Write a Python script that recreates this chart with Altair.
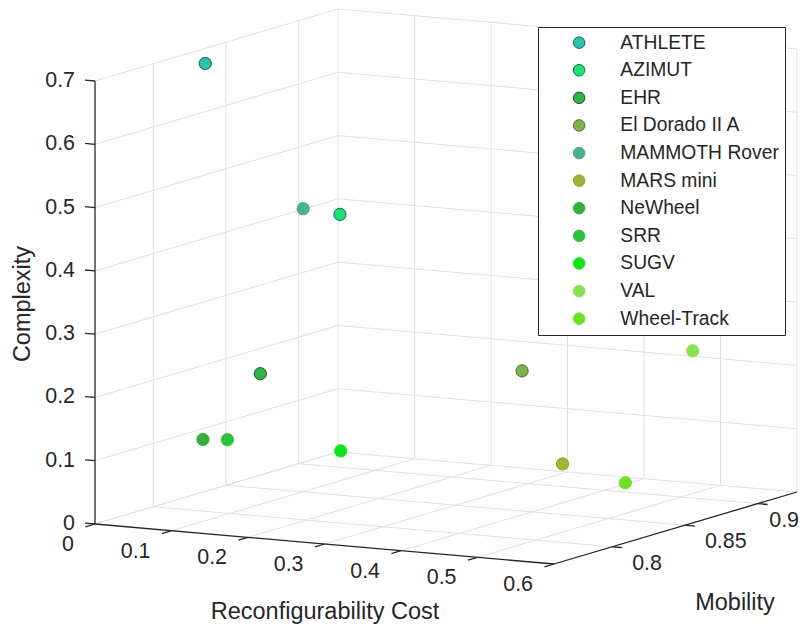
import altair as alt
import pandas as pd
import math

# ---------------- data ----------------
names = ["ATHLETE", "AZIMUT", "EHR", "El Dorado II A", "MAMMOTH Rover", "MARS mini",
         "NeWheel", "SRR", "SUGV", "VAL", "Wheel-Track"]
reconfig_cost = [0.03, 0.206, 0.14, 0.33, 0.158, 0.44, 0.084, 0.116, 0.15, 0.477, 0.503]
mobility = [0.82, 0.82, 0.80, 0.88, 0.82, 0.85, 0.79, 0.79, 0.85, 0.92, 0.86]
complexity = [0.69, 0.47, 0.225, 0.195, 0.474, 0.08, 0.122, 0.125, 0.07, 0.215, 0.05]

fill_colors = ["#2bc2a8", "#1fe072", "#2db446", "#7cb447", "#44b489", "#9ab834",
               "#36ad3c", "#2cc23c", "#12e31a", "#86e24e", "#6fe024"]
edge_colors = ["#1d5a50", "#1a6a3a", "#1d5a28", "#55653a", "#5a9a80", "#8a9e3a",
               "#36ad3c", "#2cc23c", "#12e31a", "#86e24e", "#6fe024"]

x_ticks = [0, 0.1, 0.2, 0.3, 0.4, 0.5, 0.6]
y_ticks = [0.8, 0.85, 0.9]
z_ticks = [0, 0.1, 0.2, 0.3, 0.4, 0.5, 0.6, 0.7]
XLIM = [0.0, 0.6]
YLIM = [0.76, 0.927]
ZLIM = [0.0, 0.7]

x_title = "Reconfigurability Cost"
y_title = "Mobility"
z_title = "Complexity"

# ---------------- 3D -> 2D projection (page pixels) ----------------
ORIGIN = (95.0, 524.0)
EX = (459.0, 40.0)     # screen vector of full x range
EY = (243.0, -72.0)    # screen vector of full y range
HZ = 443.0             # screen height of full z range

W, H = 792, 617
FONT = "Liberation Sans"
INK = "#262626"
TICK_FS = 21.4


def proj(x, y, z):
    a = (x - XLIM[0]) / (XLIM[1] - XLIM[0])
    b = (y - YLIM[0]) / (YLIM[1] - YLIM[0])
    c = (z - ZLIM[0]) / (ZLIM[1] - ZLIM[0])
    return (ORIGIN[0] + a * EX[0] + b * EY[0],
            ORIGIN[1] + a * EX[1] + b * EY[1] - c * HZ)


def seg(p, q):
    (x1, y1), (x2, y2) = proj(*p), proj(*q)
    return {"x1": x1, "y1": y1, "x2": x2, "y2": y2}


def text_w(s, fs):
    return fs * sum(0.278 if ch == "." else 0.556 for ch in s)


x0, x1 = XLIM
y0, y1 = YLIM
z0, z1 = ZLIM

# grid on three back planes
grid = []
for xv in x_ticks:
    grid.append(seg((xv, y0, z0), (xv, y1, z0)))          # floor
    grid.append(seg((xv, y1, z0), (xv, y1, z1)))          # back wall
for yv in y_ticks:
    grid.append(seg((x0, yv, z0), (x1, yv, z0)))          # floor
    grid.append(seg((x0, yv, z0), (x0, yv, z1)))          # left wall
for zv in z_ticks:
    grid.append(seg((x0, y0, zv), (x0, y1, zv)))          # left wall
    grid.append(seg((x0, y1, zv), (x1, y1, zv)))          # back wall
grid_df = pd.DataFrame(grid)

# axis lines
axes_df = pd.DataFrame([
    seg((x0, y0, z0), (x0, y0, z1)),
    seg((x0, y0, z0), (x1, y0, z0)),
    seg((x1, y0, z0), (x1, y1, z0)),
])

TL = 10.0
nx = math.hypot(*EX)
ny = math.hypot(*EY)
ticks = []
labels = []
for zv in z_ticks:
    px, py = proj(x0, y0, zv)
    ticks.append({"x1": px, "y1": py, "x2": px - TL * EX[0] / nx, "y2": py - TL * EX[1] / nx})
    labels.append({"px": px - 20, "py": py, "label": f"{zv:g}", "grp": "right"})
for xv in x_ticks:
    px, py = proj(xv, y0, z0)
    ticks.append({"x1": px, "y1": py, "x2": px - TL * EY[0] / ny, "y2": py - TL * EY[1] / ny})
    labels.append({"px": px - 21, "py": py + 21, "label": f"{xv:g}", "grp": "right"})
for yv in y_ticks:
    px, py = proj(x1, yv, z0)
    ticks.append({"x1": px, "y1": py, "x2": px + TL * EX[0] / nx, "y2": py + TL * EX[1] / nx})
    lab = f"{yv:g}"
    lx = min(px + 20, 8 + W - 1 - text_w(lab, TICK_FS))   # keep inside the page
    labels.append({"px": lx, "py": py + 17, "label": lab, "grp": "left"})
ticks_df = pd.DataFrame(ticks)
labels_df = pd.DataFrame(labels)

titles_df = pd.DataFrame([
    {"px": 325, "py": 619, "label": x_title},
    {"px": 735, "py": 610, "label": y_title},
])
ztitle_df = pd.DataFrame([{"px": 30, "py": 304, "label": z_title}])

pts = []
for n, xv, yv, zv in zip(names, reconfig_cost, mobility, complexity):
    px, py = proj(xv, yv, zv)
    pts.append({"name": n, "px": px, "py": py})
pts_df = pd.DataFrame(pts)

# ---------------- chart ----------------
xs = alt.Scale(domain=[8, 8 + W], nice=False, zero=False)
ys = alt.Scale(domain=[8, 8 + H], nice=False, zero=False, reverse=True)


def XY(xf, yf):
    return dict(x=alt.X(f"{xf}:Q", scale=xs, axis=None),
                y=alt.Y(f"{yf}:Q", scale=ys, axis=None))


grid_layer = alt.Chart(grid_df).mark_rule(color="#e0e0e0", strokeWidth=1).encode(
    **XY("x1", "y1"), x2="x2:Q", y2="y2:Q")
axis_layer = alt.Chart(axes_df).mark_rule(color=INK, strokeWidth=1.3).encode(
    **XY("x1", "y1"), x2="x2:Q", y2="y2:Q")
tick_layer = alt.Chart(ticks_df).mark_rule(color=INK, strokeWidth=1.3).encode(
    **XY("x1", "y1"), x2="x2:Q", y2="y2:Q")

lab_right = alt.Chart(labels_df[labels_df.grp == "right"]).mark_text(
    align="right", baseline="middle", font=FONT, fontSize=TICK_FS, color=INK
).encode(**XY("px", "py"), text="label:N")
lab_left = alt.Chart(labels_df[labels_df.grp == "left"]).mark_text(
    align="left", baseline="middle", font=FONT, fontSize=TICK_FS, color=INK
).encode(**XY("px", "py"), text="label:N")

title_layer = alt.Chart(titles_df).mark_text(
    align="center", baseline="alphabetic", font=FONT, fontSize=23.5, color=INK
).encode(**XY("px", "py"), text="label:N")
ztitle_layer = alt.Chart(ztitle_df).mark_text(
    align="center", baseline="alphabetic", font=FONT, fontSize=23.5, color=INK, angle=270
).encode(**XY("px", "py"), text="label:N")

legend = alt.Legend(
    title=None, orient="none", legendX=530, legendY=19,
    strokeColor=INK, fillColor="white", padding=6,
    labelFont=FONT, labelFontSize=19.3, labelColor=INK, labelLimit=400,
    symbolType="circle", symbolSize=133, symbolStrokeWidth=1,
    rowPadding=7.6, symbolOffset=25.5, labelOffset=31.5,
)

points = alt.Chart(pts_df).mark_circle(size=150, opacity=1, strokeWidth=1).encode(
    **XY("px", "py"),
    color=alt.Color("name:N", scale=alt.Scale(domain=names, range=fill_colors), legend=legend),
    stroke=alt.Stroke("name:N", scale=alt.Scale(domain=names, range=edge_colors), legend=legend),
)

chart = alt.layer(
    grid_layer, axis_layer, tick_layer, lab_right, lab_left, title_layer, ztitle_layer, points
).properties(
    width=W, height=H, padding=0, autosize="none", background="white"
).configure_view(stroke="transparent")

chart.save("out.html", embed_options={"renderer": "svg", "actions": False})
